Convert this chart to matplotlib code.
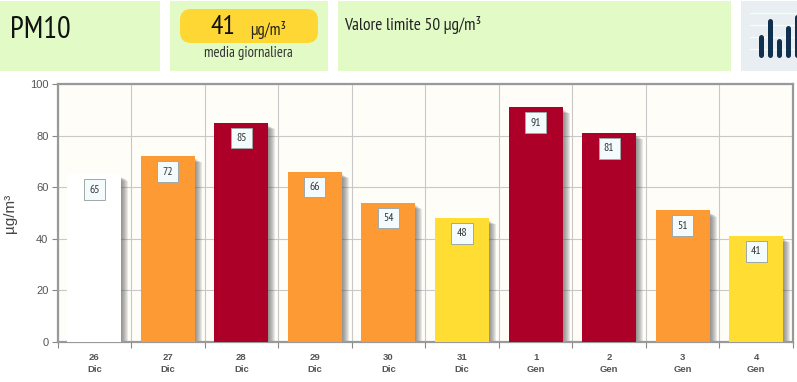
import matplotlib
matplotlib.use("Agg")
import matplotlib.pyplot as plt
import numpy as np
from matplotlib.patches import FancyBboxPatch, Rectangle

narrow = ["PT Sans Narrow", "Archivo Narrow", "Liberation Sans", "DejaVu Sans"]
plain = ["Liberation Sans", "DejaVu Sans"]
plt.rcParams["font.family"] = narrow

days = ["26", "27", "28", "29", "30", "31", "1", "2", "3", "4"]
months = ["Dic", "Dic", "Dic", "Dic", "Dic", "Dic", "Gen", "Gen", "Gen", "Gen"]
values = [65, 72, 85, 66, 54, 48, 91, 81, 51, 41]
colors = ["#ffffff", "#fe9a33", "#ad0029", "#fe9a33", "#fe9a33", "#ffdd33",
          "#ad0029", "#ad0029", "#fe9a33", "#ffdd33"]
y_ticks = [0, 20, 40, 60, 80, 100]
icon_values = [23, 39, 19, 32, 43]

W, H = 797, 382
fig = plt.figure(figsize=(W / 100, H / 100), dpi=100, facecolor="white")


def px_rect(x0, y0, x1, y1):
    return [x0 / W, 1 - y1 / H, (x1 - x0) / W, (y1 - y0) / H]


# header panels and the pill, in pixel coordinates
top = fig.add_axes([0, 0, 1, 1], facecolor="none", zorder=0)
top.set_xlim(0, W)
top.set_ylim(H, 0)
top.axis("off")
for x0, x1, c in [(0, 160, "#e2fbc6"), (170, 328, "#e2fbc6"), (338, 731, "#e2fbc6"),
                  (741, 797, "#e9eef2")]:
    top.add_patch(Rectangle((x0, 1), x1 - x0, 70, fc=c, ec="none"))
top.add_patch(FancyBboxPatch((180, 9), 138, 34, boxstyle="round,pad=0,rounding_size=11",
                             fc="#fed734", ec="none"))

top.text(10, 30, "PM10", fontsize=22, color="#111111", va="center", ha="left")
top.text(223, 27, "41", fontsize=20, color="#111111", va="center", ha="center")
top.text(268, 30, "µg/m³", fontsize=12, color="#222222", va="center", ha="center")
top.text(248, 53, "media giornaliera", fontsize=10.5, color="#333333", va="center", ha="center")
top.text(344, 25, "Valore limite 50 µg/m³", fontsize=12.5, color="#222222", va="center", ha="left")

# small icon in the corner
icon = fig.add_axes(px_rect(741, 1, 797, 71), facecolor="none", zorder=1)
icon.set_xlim(741, 797)
icon.set_ylim(-14, 56)
icon.axis("off")
for yy in [8, 20, 32, 44]:
    icon.axhline(yy, xmin=0.16, color="#f7f9fa", lw=1, zorder=1)
ix = 760.5 + 9 * np.arange(len(icon_values))
icon.vlines(ix, 2.5, np.array(icon_values) - 2.5, color="#10304f", lw=3.6, capstyle="round", zorder=2)

# main chart
ax = fig.add_axes(px_rect(57.5, 84, 793, 342), facecolor="#fffdf8", zorder=2)
x = np.arange(len(values))
ax.set_xlim(-0.5, len(values) - 0.5)
ax.set_ylim(0, 100)
ax.set_yticks(y_ticks)
ax.grid(True, color="#c8c8c8", lw=0.8, zorder=0)
ax.set_axisbelow(True)
ax.set_xticks(np.append(x - 0.5, len(values) - 0.5))
ax.set_xticklabels([])

bar_w = 54 / 73.55
# soft shadow to the lower right, outer layers a little shorter
for off in np.arange(7, 0, -1):
    d = off / 73.55
    drop = (2 + off * 0.6) * 100 / 258
    ax.bar(x + d, np.array(values) - drop, width=bar_w, color="#555555", alpha=0.12, lw=0, zorder=2)
ax.bar(x, values, width=bar_w, color=colors, lw=0, zorder=3)

for xi, v in zip(x, values):
    ax.annotate(str(v), (xi, v), xytext=(0, -11), textcoords="offset points", ha="center", va="center",
                fontsize=8.5, color="#333333", zorder=5,
                bbox=dict(boxstyle="square,pad=0.45", fc="#f4fbfd", ec="#a0a8a8", lw=0.7))

for s in ax.spines.values():
    s.set_color("#999999")
    s.set_linewidth(1.6)
ax.tick_params(axis="both", color="#888888", length=4.5, width=0.8, pad=2)
ax.tick_params(axis="y", labelsize=8, labelcolor="#555555")
for t in ax.get_yticklabels():
    t.set_family(plain)
ax.set_ylabel("µg/m³", fontsize=11, color="#444444", family=plain, labelpad=9)

for xi, d, m in zip(x, days, months):
    ax.annotate(d, (xi, 0), xytext=(0, -11.5), textcoords="offset points", ha="center", va="center",
                fontsize=6.8, color="#555555", family=plain, fontweight="bold")
    ax.annotate(m, (xi, 0), xytext=(0, -19.5), textcoords="offset points", ha="center", va="center",
                fontsize=6.8, color="#555555", family=plain, fontweight="bold")

fig.savefig("out.png", dpi=100)
